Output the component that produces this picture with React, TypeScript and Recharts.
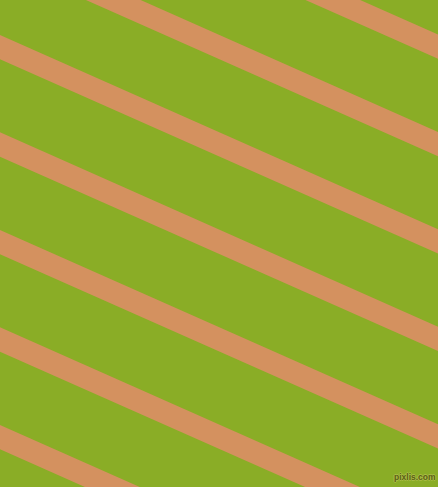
import React from "react";
import { LineChart, Line, XAxis, YAxis } from "recharts";

// Stripe centre-line positions (y in pixels from top)
const stripeNames = ["s0", "s1", "s2", "s3", "s4", "s5", "s6"];
const leftEdgeY = [-147.8, -50.3, 47.2, 144.5, 242.2, 339.5, 437.2]; // at x = 0
const rightEdgeY = [46.7, 144.2, 241.3, 338.9, 436.3, 533.8, 631.3]; // at x = 438
const edgeX = [0, 438];

const BG = "#8AAD26";
const STRIPE = "#D4915F";

const data = edgeX.map((x, i) => {
  const row: Record<string, number> = { x };
  stripeNames.forEach((name, k) => {
    row[name] = i === 0 ? leftEdgeY[k] : rightEdgeY[k];
  });
  return row;
});

export default function App() {
  return (
    <div
      style={{
        position: "absolute",
        left: 0,
        top: 0,
        width: 438,
        height: 487,
        background: BG,
        overflow: "hidden",
      }}
    >
      <LineChart
        width={438}
        height={487}
        data={data}
        margin={{ top: 0, right: 0, bottom: 0, left: 0 }}
      >
        <XAxis
          type="number"
          dataKey="x"
          domain={[0, 438]}
          allowDataOverflow
          hide
        />
        <YAxis
          type="number"
          domain={[0, 487]}
          reversed
          allowDataOverflow
          hide
        />
        {stripeNames.map((name) => (
          <Line
            key={name}
            dataKey={name}
            type="linear"
            stroke={STRIPE}
            strokeWidth={22.2}
            strokeLinecap="square"
            dot={false}
            activeDot={false}
            isAnimationActive={false}
          />
        ))}
      </LineChart>
      <div
        style={{
          position: "absolute",
          left: 394,
          top: 472,
          fontFamily: "'Liberation Sans', Arial, sans-serif",
          fontWeight: "bold",
          fontSize: 8.5,
          lineHeight: "11px",
          color: "#5C5F16",
          textShadow:
            "1px 0 0 #A9BD45, -1px 0 0 #A9BD45, 0 1px 0 #A9BD45, 0 -1px 0 #A9BD45",
          whiteSpace: "nowrap",
        }}
      >
        pixlis.com
      </div>
    </div>
  );
}
